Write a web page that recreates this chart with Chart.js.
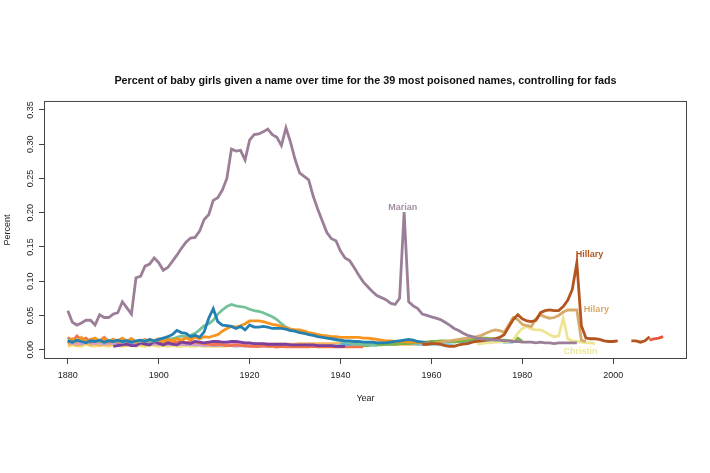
<!DOCTYPE html>
<html><head><meta charset="utf-8">
<script src="https://cdn.jsdelivr.net/npm/chart.js@4/dist/chart.umd.min.js"></script>
<style>html,body{margin:0;padding:0;background:#fff;} canvas{display:block;}</style>
</head><body>
<canvas id="c" width="710" height="473"></canvas>
<script>
// ---- axis ticks ----
const xTicks = [1880, 1900, 1920, 1940, 1960, 1980, 2000];
const yTicks = [0, 0.05, 0.10, 0.15, 0.20, 0.25, 0.30, 0.35];

// ---- series values (one value per year, starting at the given year) ----
const marianStart = 1880;
const marian = [
 0.057,0.040,0.036,0.039,0.043,0.043,0.036,0.051,0.047,0.047,
 0.052,0.054,0.070,0.061,0.052,0.105,0.107,0.122,0.125,0.134,
 0.127,0.116,0.120,0.129,0.138,0.148,0.157,0.163,0.164,0.173,
 0.190,0.197,0.218,0.222,0.233,0.250,0.293,0.290,0.291,0.277,
 0.306,0.314,0.315,0.318,0.322,0.314,0.310,0.298,0.324,0.303,
 0.278,0.258,0.253,0.248,0.224,0.205,0.188,0.171,0.162,0.159,
 0.144,0.134,0.130,0.120,0.109,0.099,0.092,0.085,0.079,0.076,
 0.073,0.068,0.066,0.075,0.201,0.070,0.064,0.060,0.052,0.050,
 0.048,0.046,0.044,0.040,0.036,0.031,0.028,0.024,0.021,0.019,
 0.017,0.016,0.015,0.015,0.014,0.014,0.013,0.013,0.012,0.012,
 0.011,0.011,0.011,0.010,0.011,0.010,0.010,0.009,0.010,0.010,
 0.010,0.010,0.010
];
const hillaryStart = 1958;
const hillary = [
 0.008,0.008,0.009,0.009,0.008,0.006,0.005,0.005,0.007,0.008,
 0.009,0.011,0.012,0.013,0.014,0.015,0.016,0.018,0.022,0.033,
 0.044,0.051,0.045,0.042,0.041,0.043,0.054,0.057,0.058,0.057,
 0.057,0.063,0.072,0.088,0.127,0.035,0.017,0.016,0.016,0.015,
 0.013,0.012,0.012,0.013,null,null,0.013,0.013,0.011,0.013,0.019
];
const tailStart = 2008;
const tail = [0.014, 0.016, 0.017, 0.019];
const hilaryStart = 1958;
const hilary = [
 0.008,0.009,0.009,0.010,0.011,0.012,0.013,0.014,0.015,0.016,
 0.017,0.018,0.019,0.021,0.024,0.027,0.029,0.028,0.025,0.036,
 0.047,0.044,0.037,0.035,0.034,0.045,0.051,0.048,0.046,0.047,
 0.050,0.055,0.058,0.058,0.058,0.014,0.012
];
const christinStart = 1970;
const christin = [
 0.008,0.009,0.010,0.010,0.011,0.011,0.012,0.012,0.014,0.024,
 0.031,0.034,0.030,0.029,0.029,0.026,0.022,0.019,0.020,0.046,
 0.016,0.013,0.012,0.011,0.010,0.010,0.009
];
const blueStart = 1880;
const blue = [
 0.013,0.011,0.014,0.012,0.010,0.013,0.012,0.014,0.011,0.013,
 0.012,0.014,0.012,0.013,0.011,0.013,0.014,0.012,0.015,0.013,
 0.015,0.017,0.019,0.022,0.028,0.025,0.024,0.019,0.021,0.018,
 0.026,0.046,0.060,0.041,0.036,0.035,0.034,0.031,0.034,0.029,
 0.036,0.033,0.033,0.034,0.033,0.031,0.031,0.031,0.030,0.028,
 0.027,0.025,0.024,0.022,0.021,0.019,0.018,0.017,0.016,0.015,
 0.014,0.013,0.013,0.012,0.012,0.011,0.011,0.011,0.010,0.010,
 0.010,0.011,0.012,0.013,0.014,0.015,0.014,0.012,0.011,0.010,
 0.010,0.009,0.009
];
const greenStart = 1880;
const green = [
 0.015,0.012,0.013,0.016,0.011,0.014,0.012,0.013,0.011,0.014,
 0.012,0.013,0.011,0.012,0.013,0.011,0.012,0.014,0.012,0.013,
 0.014,0.014,0.015,0.016,0.018,0.020,0.019,0.021,0.024,0.029,
 0.035,0.038,0.043,0.052,0.058,0.063,0.066,0.064,0.063,0.062,
 0.059,0.057,0.056,0.054,0.051,0.048,0.044,0.038,0.033,0.030,
 0.028,0.027,0.026,0.024,0.023,0.022,0.020,0.018,0.016,0.014,
 0.013,0.011,0.010,0.009,0.008,0.008,0.007,0.007,0.006
];
const orangeStart = 1880;
const orange = [
 0.010,0.016,0.012,0.018,0.011,0.015,0.017,0.012,0.016,0.011,
 0.015,0.013,0.017,0.012,0.016,0.011,0.014,0.012,0.015,0.013,
 0.016,0.012,0.015,0.013,0.016,0.014,0.017,0.015,0.018,0.016,
 0.019,0.018,0.020,0.022,0.027,0.031,0.034,0.033,0.035,0.038,
 0.042,0.042,0.042,0.041,0.039,0.037,0.036,0.034,0.032,0.030,
 0.029,0.029,0.027,0.025,0.024,0.022,0.021,0.020,0.019,0.019,
 0.018,0.018,0.018,0.018,0.018,0.017,0.017,0.016,0.015,0.014,
 0.013,0.013,0.012,0.012,0.012,0.011,0.011,0.011,0.010,0.010,
 0.010
];
const purpleStart = 1890;
const purple = [
 0.005,0.006,0.007,0.008,0.006,0.006,0.010,0.008,0.007,0.012,
 0.009,0.007,0.010,0.008,0.007,0.011,0.010,0.009,0.012,0.011,
 0.010,0.011,0.012,0.012,0.011,0.011,0.012,0.012,0.011,0.010,
 0.010,0.009,0.009,0.009,0.008,0.008,0.008,0.008,0.008,0.007,
 0.007,0.007,0.007,0.007,0.007,0.006,0.006,0.006,0.006,0.005,
 0.005,0.005
];
const salmonStart = 1880;
const salmon = [
 0.018,0.012,0.020,0.014,0.017,0.011,0.016,0.013,0.018,0.012,
 0.015,0.010,0.014,0.012,0.016,0.011,0.013,0.015,0.012,0.014,
 0.011,0.013,0.010,0.012,0.011,0.013,0.010,0.012,0.011,0.010,
 0.009,0.008,0.007,0.008,0.007,0.006,0.006,0.007,0.006,0.006,
 0.005,0.005,0.005,0.006,0.005,0.005,0.004,0.005,0.004,0.004,
 0.004,0.004,0.004,0.004,0.005,0.004,0.004,0.004,0.004,0.004,
 0.004,0.004,0.004,0.004,0.004,0.004
];
const pinkStart = 1880;
const pink = [
 0.010,0.014,0.009,0.013,0.011,0.015,0.010,0.012,0.014,0.010,
 0.013,0.011,0.012,0.010,0.013,0.011,0.012,0.010,0.011,0.012,
 0.010,0.011,0.010,0.011,0.010,0.009,0.010,0.009,0.010,0.009,
 0.008,0.009,0.008,0.009,0.008,0.008,0.009,0.008,0.008,0.007,
 0.008,0.007,0.008,0.007,0.007,0.007,0.007,0.006,0.007,0.006,
 0.006,0.006,0.006,0.006,0.005,0.006,0.005,0.005,0.005,0.005,
 0.005
];
const lavenderStart = 1880;
const lavender = [
 0.012,0.009,0.011,0.008,0.012,0.010,0.009,0.011,0.008,0.010,
 0.009,0.011,0.008,0.010,0.009,0.008,0.010,0.009,0.008,0.009,
 0.008,0.009,0.008,0.009,0.007,0.008,0.007,0.008,0.007,0.007,
 0.006,0.007,0.006,0.006,0.007,0.006,0.006,0.005,0.006,0.005,
 0.006,0.005,0.005,0.005,0.005,0.005
];
const skyStart = 1880;
const sky = [
 0.011,0.010,0.012,0.009,0.011,0.010,0.012,0.010,0.009,0.011,
 0.010,0.009,0.011,0.010,0.009,0.010,0.009,0.010,0.009,0.010,
 0.009,0.010,0.009,0.008,0.009,0.008,0.009,0.008,0.008,0.009,
 0.008,0.007,0.008,0.007,0.007,0.008,0.007,0.007,0.007,0.006,
 0.006,0.007,0.006,0.006,0.006,0.006,0.005,0.006,0.005,0.005,
 0.005,0.005,0.005,0.005,0.005,0.005,0.005,0.005,0.006,0.006,
 0.006,0.006,0.006,0.006,0.007,0.007,0.007,0.007,0.008,0.008,
 0.008,0.008,0.009,0.009,0.009,0.009,0.009,0.008,0.008,0.008,
 0.008,0.008,0.007,0.007,0.007,0.006
];
const peachStart = 1880;
const peach = [
 0.007,0.009,0.006,0.008,0.010,0.007,0.009,0.006,0.008,0.007,
 0.009,0.007,0.008,0.006,0.009,0.007,0.008,0.007,0.009,0.008,
 0.008,0.009,0.007,0.008,0.009,0.008,0.009,0.008,0.009,0.009,
 0.008,0.009,0.008,0.008,0.009,0.008,0.008,0.008,0.008,0.008,
 0.008,0.008,0.008,0.008,0.008,0.008,0.008,0.008,0.008,0.008,
 0.008,0.009,0.009,0.009,0.009,0.009,0.009,0.009,0.009,0.009,
 0.009,0.009,0.009,0.009,0.008,0.008,0.008,0.008,0.008,0.008,
 0.008,0.008,0.008,0.008,0.008,0.008,0.008,0.008,0.008,0.008,
 0.008
];
const paleStart = 1880;
const pale = [
 0.005,0.007,0.006,0.005,0.008,0.006,0.005,0.007,0.006,0.005,
 0.007,0.006,0.005,0.006,0.007,0.005,0.006,0.005,0.007,0.006,
 0.005,0.006,0.005,0.006,0.005,0.005,0.006,0.005,0.005,0.006,
 0.005,0.005,0.005,0.005,0.005,0.005
];
const oliveStart = 1945;
const olive = [
 0.006,0.006,0.007,0.007,0.007,0.008,0.008,0.008,0.009,0.009,
 0.009,0.010,0.010,0.011,0.011,0.012,0.012,0.013,0.013,0.012,
 0.011,0.012,0.013,0.014,0.015,0.016,0.017,0.017,0.016,0.015,
 0.014,0.014,0.013,0.014,0.017,0.012
];
const cyanStart = 1940;
const cyan = [
 0.008,0.008,0.008,0.009,0.009,0.009,0.009,0.010,0.010,0.010,
 0.010,0.010,0.010,0.010,0.010,0.010,0.010,0.010,0.010,0.010,
 0.010,0.011,0.011,0.011,0.011,0.012,0.012,0.012,0.012,0.013,
 0.013,0.013,0.013,0.012,0.012,0.012,0.011,0.011,0.011
];

// ---- annotations (name, year, value) ----
const labelNames  = ['Marian', 'Hillary', 'Hilary', 'Christin'];
const labelYears  = [1953.7, 1994.8, 1996.3, 1992.8];
const labelValues = [0.207, 0.1385, 0.0583, -0.0029];

// ---- styles ----
const labelColors = ['#A48FA2', '#B4541E', '#D6AA68', '#EDE69C'];
const seriesDefs = [
  [marianStart, marian, '#9B7F98'],
  [hillaryStart, hillary, '#B4541E'],
  [tailStart, tail, '#E8553C'],
  [hilaryStart, hilary, '#D6AA68'],
  [christinStart, christin, '#EEE594'],
  [blueStart, blue, '#2480B2'],
  [orangeStart, orange, '#F7941D'],
  [greenStart, green, '#74C29A'],
  [purpleStart, purple, '#7B3F9E'],
  [oliveStart, olive, '#7DB544'],
  [cyanStart, cyan, '#5AAFD6'],
  [salmonStart, salmon, '#F0734A'],
  [pinkStart, pink, '#E597C0'],
  [lavenderStart, lavender, '#BFA3D6'],
  [skyStart, sky, '#8CC6E3'],
  [peachStart, peach, '#FBB45C'],
  [paleStart, pale, '#F3DF7C']
];

const datasets = seriesDefs.map(([start, vals, col]) => ({
  data: vals.map((v, i) => ({x: start + i, y: v})),
  borderColor: col,
  backgroundColor: col,
  borderWidth: 2.8,
  pointRadius: 0,
  fill: false,
  spanGaps: false,
  tension: 0
}));

const boxPlugin = {
  id: 'box',
  afterDatasetsDraw(chart) {
    const ctx = chart.ctx;
    const xs = chart.scales.x, ys = chart.scales.y;
    ctx.save();
    ctx.font = 'bold 9px "Liberation Sans", Arial, sans-serif';
    ctx.textAlign = 'center';
    ctx.textBaseline = 'middle';
    labelNames.forEach((n, i) => {
      ctx.fillStyle = labelColors[i];
      ctx.fillText(n, xs.getPixelForValue(labelYears[i]), ys.getPixelForValue(labelValues[i]));
    });
    const a = chart.chartArea;
    ctx.strokeStyle = '#444';
    ctx.lineWidth = 1;
    ctx.strokeRect(a.left + 0.5, a.top + 0.5, a.right - a.left - 1, a.bottom - a.top - 1);
    ctx.restore();
  }
};

const fontFam = '"Liberation Sans", Arial, sans-serif';
new Chart(document.getElementById('c'), {
  type: 'line',
  data: {datasets},
  plugins: [boxPlugin],
  options: {
    responsive: false,
    animation: false,
    events: [],
    layout: {padding: {left: 0, right: 23, top: 0, bottom: 0}},
    plugins: {
      legend: {display: false},
      tooltip: {enabled: false},
      title: {
        display: true,
        fullSize: false,
        text: 'Percent of baby girls given a name over time for the 39 most poisoned names, controlling for fads',
        font: {family: fontFam, size: 10.8, weight: 'bold'},
        color: '#111',
        padding: {top: 74.5, bottom: 13.5}
      }
    },
    scales: {
      x: {
        type: 'linear',
        min: 1874.76, max: 2016.24,
        afterBuildTicks: s => { s.ticks = xTicks.map(v => ({value: v})); },
        afterFit: s => { s.height = 114; },
        border: {display: false},
        grid: {drawOnChartArea: false, drawTicks: true, tickLength: 5, color: '#444'},
        ticks: {
          font: {family: fontFam, size: 9}, color: '#222', padding: 6,
          maxRotation: 0, minRotation: 0, autoSkip: false,
          callback: v => String(v)
        },
        title: {display: true, text: 'Year', font: {family: fontFam, size: 9}, color: '#222',
                padding: {top: 0, bottom: 69}}
      },
      y: {
        type: 'linear',
        min: -0.01356, max: 0.3631,
        afterBuildTicks: s => { s.ticks = yTicks.map(v => ({value: v})); },
        afterFit: s => { s.width = 44; },
        border: {display: false},
        grid: {drawOnChartArea: false, drawTicks: true, tickLength: 5, color: '#444'},
        ticks: {
          font: {family: fontFam, size: 9}, color: '#222', padding: 0,
          minRotation: 90, maxRotation: 90, crossAlign: 'center', autoSkip: false,
          callback: v => Number(v).toFixed(2)
        },
        title: {display: true, text: 'Percent', font: {family: fontFam, size: 9}, color: '#222',
                padding: {top: 2, bottom: 0}}
      }
    }
  }
});
</script>
</body></html>
